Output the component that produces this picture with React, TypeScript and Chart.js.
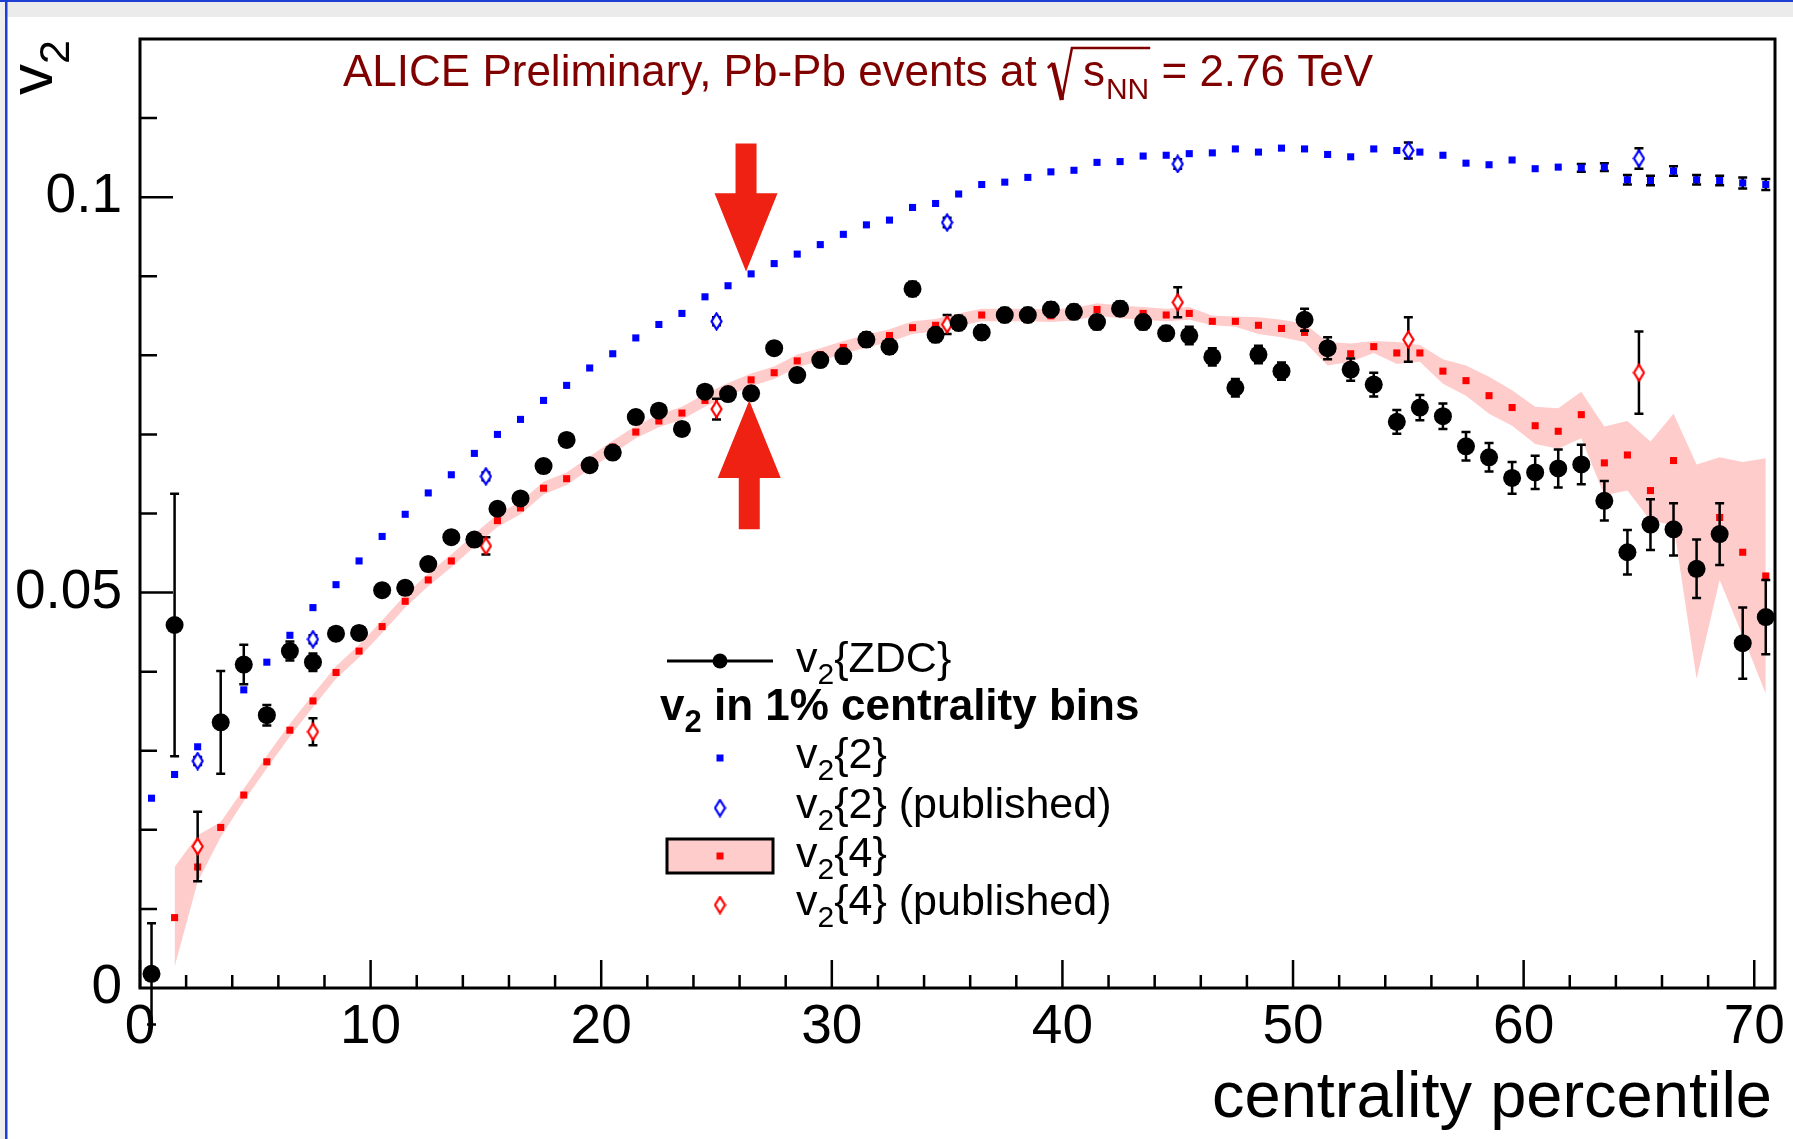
import React, { useEffect, useRef } from 'react';
import { Chart, registerables } from 'chart.js';

Chart.register(...registerables);

const W = 1793;
const H = 1139;
const FONT = "'Liberation Sans', Arial, Helvetica, sans-serif";

// ---------------- data ----------------
const CENTRALITY = [
  0.5, 1.5, 2.5, 3.5, 4.5, 5.5, 6.5, 7.5, 8.5, 9.5,
  10.5, 11.5, 12.5, 13.5, 14.5, 15.5, 16.5, 17.5, 18.5, 19.5,
  20.5, 21.5, 22.5, 23.5, 24.5, 25.5, 26.5, 27.5, 28.5, 29.5,
  30.5, 31.5, 32.5, 33.5, 34.5, 35.5, 36.5, 37.5, 38.5, 39.5,
  40.5, 41.5, 42.5, 43.5, 44.5, 45.5, 46.5, 47.5, 48.5, 49.5,
  50.5, 51.5, 52.5, 53.5, 54.5, 55.5, 56.5, 57.5, 58.5, 59.5,
  60.5, 61.5, 62.5, 63.5, 64.5, 65.5, 66.5, 67.5, 68.5, 69.5,
  70.5,
];

const V2_ZDC = [
  0.0018, 0.0459, null, 0.0336, 0.0409, 0.0345, 0.0426, 0.0412, 0.0448, 0.0449,
  0.0503, 0.0506, 0.0536, 0.0570, 0.0567, 0.0606, 0.0619, 0.0660, 0.0693, 0.0661,
  0.0677, 0.0722, 0.0730, 0.0707, 0.0754, 0.0751, 0.0752, 0.0809, 0.0775, 0.0794,
  0.0799, 0.0820, 0.0811, 0.0884, 0.0826, 0.0841, 0.0829, 0.0851, 0.0851, 0.0858,
  0.0855, 0.0842, 0.0859, 0.0842, 0.0828, 0.0825, 0.0798, 0.0759, 0.0801, 0.0780,
  0.0845, 0.0809, 0.0782, 0.0763, 0.0716, 0.0734, 0.0723, 0.0685, 0.0671, 0.0645,
  0.0652, 0.0657, 0.0662, 0.0616, 0.0551, 0.0586, 0.0580, 0.0530, 0.0574, 0.0436,
  0.0469,
];

const V2_ZDC_ERR = [
  0.0064, 0.0166, null, 0.0065, 0.0025, 0.0013, 0.0012, 0.0011, 0.0008, 0.0008,
  0.0008, 0.0008, 0.0008, 0.0008, 0.0008, 0.0008, 0.0008, 0.0008, 0.0008, 0.0008,
  0.0008, 0.0008, 0.0008, 0.0008, 0.0008, 0.0008, 0.0008, 0.0008, 0.0008, 0.0008,
  0.0009, 0.0009, 0.0009, 0.0009, 0.0009, 0.0009, 0.0009, 0.0009, 0.0009, 0.0009,
  0.0009, 0.0009, 0.0009, 0.0009, 0.0009, 0.0011, 0.0011, 0.0011, 0.0011, 0.0011,
  0.0014, 0.0014, 0.0014, 0.0015, 0.0015, 0.0016, 0.0016, 0.0018, 0.0018, 0.0020,
  0.0021, 0.0024, 0.0025, 0.0025, 0.0028, 0.0032, 0.0033, 0.0037, 0.0039, 0.0045,
  0.0047,
];

const V2_2 = [
  0.0240, 0.0270, 0.0305, 0.0340, 0.0377, 0.0412, 0.0446, 0.0481, 0.0510, 0.0540,
  0.0571, 0.0599, 0.0626, 0.0649, 0.0676, 0.0700, 0.0719, 0.0743, 0.0762, 0.0784,
  0.0802, 0.0822, 0.0839, 0.0853, 0.0874, 0.0888, 0.0903, 0.0916, 0.0928, 0.0940,
  0.0953, 0.0965, 0.0971, 0.0987, 0.0992, 0.1004, 0.1016, 0.1019, 0.1025, 0.1032,
  0.1034, 0.1044, 0.1045, 0.1052, 0.1053, 0.1055, 0.1056, 0.1061, 0.1057, 0.1062,
  0.1061, 0.1054, 0.1051, 0.1061, 0.1059, 0.1057, 0.1053, 0.1043, 0.1041, 0.1047,
  0.1036, 0.1038, 0.1037, 0.1038, 0.1022, 0.1021, 0.1033, 0.1022, 0.1021, 0.1018,
  0.1016,
];

const V2_2_ERR = [
  0, 0, 0, 0, 0, 0, 0, 0, 0, 0,
  0, 0, 0, 0, 0, 0, 0, 0, 0, 0,
  0, 0, 0, 0, 0, 0, 0, 0, 0, 0,
  0, 0, 0, 0, 0, 0, 0, 0, 0, 0,
  0, 0, 0, 0, 0, 0, 0, 0, 0, 0,
  0, 0, 0, 0, 0, 0, 0, 0, 0, 0,
  0, 0, 0.0005, 0.0005, 0.0006, 0.0006, 0.0006, 0.0006, 0.0006, 0.0007,
  0.0007,
];

const V2_4 = [
  null, 0.0089, 0.0153, 0.0203, 0.0244, 0.0286, 0.0326, 0.0363, 0.0399, 0.0426,
  0.0457, 0.0489, 0.0516, 0.0540, 0.0566, 0.0591, 0.0607, 0.0632, 0.0644, 0.0664,
  0.0684, 0.0703, 0.0717, 0.0727, 0.0743, 0.0757, 0.0769, 0.0778, 0.0793, 0.0801,
  0.0810, 0.0818, 0.0825, 0.0835, 0.0838, 0.0845, 0.0851, 0.0851, 0.0851, 0.0850,
  0.0852, 0.0858, 0.0855, 0.0853, 0.0851, 0.0853, 0.0843, 0.0843, 0.0838, 0.0834,
  0.0829, 0.0806, 0.0802, 0.0811, 0.0803, 0.0803, 0.0780, 0.0768, 0.0749, 0.0734,
  0.0711, 0.0704, 0.0725, 0.0664, 0.0674, 0.0629, 0.0667, 0.0530, 0.0595, 0.0551,
  0.0521,
];

const V2_4_BAND_LO = [
  null, 0.0027, 0.0134, 0.0191, 0.0236, 0.0278, 0.0318, 0.0355, 0.0391, 0.0418,
  0.0449, 0.0481, 0.0508, 0.0532, 0.0558, 0.0583, 0.0599, 0.0624, 0.0636, 0.0656,
  0.0676, 0.0695, 0.0709, 0.0719, 0.0735, 0.0749, 0.0761, 0.0770, 0.0785, 0.0793,
  0.0802, 0.0810, 0.0817, 0.0827, 0.0830, 0.0837, 0.0843, 0.0843, 0.0843, 0.0842,
  0.0844, 0.0850, 0.0847, 0.0845, 0.0843, 0.0845, 0.0838, 0.0836, 0.0827, 0.0823,
  0.0817, 0.0787, 0.0792, 0.0803, 0.0789, 0.0792, 0.0764, 0.0749, 0.0726, 0.0711,
  0.0688, 0.0682, 0.0695, 0.0623, 0.0629, 0.0591, 0.0585, 0.0391, 0.0516, 0.0445,
  0.0372,
];

const V2_4_BAND_HI = [
  null, 0.0153, 0.0193, 0.0210, 0.0252, 0.0294, 0.0334, 0.0371, 0.0407, 0.0434,
  0.0465, 0.0497, 0.0524, 0.0548, 0.0574, 0.0599, 0.0615, 0.0640, 0.0652, 0.0672,
  0.0692, 0.0711, 0.0725, 0.0735, 0.0751, 0.0765, 0.0777, 0.0786, 0.0801, 0.0809,
  0.0818, 0.0826, 0.0833, 0.0843, 0.0846, 0.0853, 0.0859, 0.0859, 0.0859, 0.0858,
  0.0860, 0.0866, 0.0863, 0.0861, 0.0859, 0.0861, 0.0850, 0.0849, 0.0848, 0.0845,
  0.0840, 0.0817, 0.0815, 0.0818, 0.0817, 0.0813, 0.0795, 0.0787, 0.0773, 0.0756,
  0.0735, 0.0733, 0.0754, 0.0710, 0.0717, 0.0691, 0.0726, 0.0662, 0.0671, 0.0665,
  0.0670,
];

const PUBLISHED_X = [2.5, 7.5, 15, 25, 35, 45, 55, 65];
const V2_2_PUB = [0.0287, 0.0441, 0.0647, 0.0843, 0.0968, 0.1042, 0.1059, 0.1049];
const V2_2_PUB_ERR = [0.0005, 0.0005, 0.0005, 0.0005, 0.0006, 0.0006, 0.0010, 0.0013];
const V2_4_PUB = [0.0179, 0.0324, 0.0559, 0.0732, 0.0839, 0.0867, 0.0820, 0.0778];
const V2_4_PUB_ERR = [0.0044, 0.0017, 0.0011, 0.0013, 0.0012, 0.0019, 0.0028, 0.0052];

const X_MIN = 0;
const X_MAX = 70.9;
const Y_MIN = 0;
const Y_MAX = 0.12;
const X_LABELS = [0, 10, 20, 30, 40, 50, 60, 70];
const Y_LABELS = ['0', '0.05', '0.1'];

// arrows (in data units)
const ARROW_DOWN = { x: 26.28, tail: 0.1068, base: 0.1005, tip: 0.0906 };
const ARROW_UP = { x: 26.42, tail: 0.058, base: 0.0645, tip: 0.0743 };

const TITLE_PARTS = ['ALICE Preliminary, Pb-Pb events at ', 's', 'NN', ' = 2.76 TeV'];
const X_TITLE = 'centrality percentile';

// ---------------- helpers ----------------
type Part = { t: string; sub?: boolean };

function richWidth(ctx: CanvasRenderingContext2D, parts: Part[], size: number, bold: boolean) {
  let w = 0;
  for (const p of parts) {
    const s = p.sub ? Math.round(size * 0.7) : size;
    ctx.font = `${bold ? 'bold ' : ''}${s}px ${FONT}`;
    w += ctx.measureText(p.t).width;
  }
  return w;
}

function drawRich(
  ctx: CanvasRenderingContext2D,
  parts: Part[],
  x: number,
  y: number,
  size: number,
  bold: boolean,
) {
  let cx = x;
  for (const p of parts) {
    const s = p.sub ? Math.round(size * 0.7) : size;
    ctx.font = `${bold ? 'bold ' : ''}${s}px ${FONT}`;
    const dy = p.sub ? size * 0.28 : 0;
    ctx.fillText(p.t, cx, y + dy);
    cx += ctx.measureText(p.t).width;
  }
  return cx;
}

function makeDiamond(color: string) {
  const c = document.createElement('canvas');
  c.width = 13;
  c.height = 19;
  const g = c.getContext('2d')!;
  g.beginPath();
  g.moveTo(6.5, 1.5);
  g.lineTo(11.5, 9.5);
  g.lineTo(6.5, 17.5);
  g.lineTo(1.5, 9.5);
  g.closePath();
  g.fillStyle = '#ffffff';
  g.fill();
  g.strokeStyle = color;
  g.lineWidth = 2.2;
  g.stroke();
  return c;
}

function pts(xs: number[], ys: (number | null)[]) {
  return xs.map((x, i) => ({ x, y: ys[i] }));
}

// ---------------- plugins ----------------
const backgroundPlugin = {
  id: 'slideBackground',
  beforeDraw(chart: any) {
    const ctx = chart.ctx as CanvasRenderingContext2D;
    ctx.save();
    ctx.fillStyle = '#ffffff';
    ctx.fillRect(0, 0, W, H);
    ctx.fillStyle = '#ebebeb';
    ctx.fillRect(0, 0, W, 17);
    ctx.fillStyle = '#eeeeee';
    ctx.fillRect(0, 0, 5, H);
    ctx.fillStyle = '#1d3fd4';
    ctx.fillRect(0, 0, W, 2);
    ctx.fillRect(5, 0, 2.5, H);
    ctx.restore();
  },
};

const errorBarPlugin = {
  id: 'errorBars',
  beforeDatasetDraw(chart: any, args: any) {
    const ds = chart.data.datasets[args.index];
    const errs = ds.errY as (number | null)[] | undefined;
    if (!errs) return;
    const ys = chart.scales.y;
    const ctx = chart.ctx as CanvasRenderingContext2D;
    const els = args.meta.data;
    ctx.save();
    ctx.strokeStyle = '#000000';
    ctx.lineWidth = 2.5;
    ds.data.forEach((d: any, i: number) => {
      const e = errs[i];
      if (d.y == null || !e || !els[i]) return;
      const x = els[i].x;
      const yHi = ys.getPixelForValue(d.y + e);
      const yLo = ys.getPixelForValue(d.y - e);
      ctx.beginPath();
      ctx.moveTo(x, yHi);
      ctx.lineTo(x, yLo);
      ctx.moveTo(x - 4.5, yHi);
      ctx.lineTo(x + 4.5, yHi);
      ctx.moveTo(x - 4.5, yLo);
      ctx.lineTo(x + 4.5, yLo);
      ctx.stroke();
    });
    ctx.restore();
  },
};

function makeOverlayPlugin(diamondBlue: HTMLCanvasElement, diamondRed: HTMLCanvasElement) {
  return {
    id: 'overlay',
    afterDatasetsDraw(chart: any) {
      const ctx = chart.ctx as CanvasRenderingContext2D;
      const xs = chart.scales.x;
      const ys = chart.scales.y;
      const a = chart.chartArea;

      // arrows
      ctx.save();
      ctx.fillStyle = '#ee2112';
      const arrow = (ar: { x: number; tail: number; base: number; tip: number }) => {
        const x = xs.getPixelForValue(ar.x);
        const yT = ys.getPixelForValue(ar.tail);
        const yB = ys.getPixelForValue(ar.base);
        const yP = ys.getPixelForValue(ar.tip);
        const sw = 10.5;
        const hw = 31.5;
        ctx.beginPath();
        ctx.moveTo(x - sw, yT);
        ctx.lineTo(x + sw, yT);
        ctx.lineTo(x + sw, yB);
        ctx.lineTo(x + hw, yB);
        ctx.lineTo(x, yP);
        ctx.lineTo(x - hw, yB);
        ctx.lineTo(x - sw, yB);
        ctx.closePath();
        ctx.fill();
      };
      arrow(ARROW_DOWN);
      arrow(ARROW_UP);
      ctx.restore();

      // frame
      ctx.save();
      ctx.strokeStyle = '#000000';
      ctx.lineWidth = 3;
      ctx.strokeRect(a.left, a.top, a.right - a.left, a.bottom - a.top);
      // inward ticks
      ctx.lineWidth = 2.5;
      ctx.beginPath();
      xs.ticks.forEach((t: any) => {
        const v = t.value;
        const px = xs.getPixelForValue(v);
        const major = Math.abs(v / 10 - Math.round(v / 10)) < 1e-6;
        const len = major ? 28 : 13;
        ctx.moveTo(px, a.bottom);
        ctx.lineTo(px, a.bottom - len);
      });
      ys.ticks.forEach((t: any) => {
        const v = t.value;
        if (v <= 0.0001 || v >= Y_MAX - 0.0001) return;
        const py = ys.getPixelForValue(v);
        const major = Math.abs(v / 0.05 - Math.round(v / 0.05)) < 1e-6;
        const len = major ? 33 : 17;
        ctx.moveTo(a.left, py);
        ctx.lineTo(a.left + len, py);
      });
      ctx.stroke();
      ctx.restore();

      // top annotation
      ctx.save();
      ctx.fillStyle = '#800000';
      ctx.strokeStyle = '#800000';
      ctx.textBaseline = 'alphabetic';
      ctx.font = `44px ${FONT}`;
      let x = 343;
      const by = 86;
      ctx.fillText(TITLE_PARTS[0], x, by);
      x += ctx.measureText(TITLE_PARTS[0]).width;
      const rx = x - 1;
      const sx = rx + 35;
      ctx.fillText(TITLE_PARTS[1], sx, by);
      let nx = sx + ctx.measureText(TITLE_PARTS[1]).width + 1;
      ctx.font = `30px ${FONT}`;
      ctx.fillText(TITLE_PARTS[2], nx, by + 13);
      nx += ctx.measureText(TITLE_PARTS[2]).width;
      const overEnd = nx + 1;
      ctx.lineJoin = 'miter';
      ctx.lineWidth = 2.5;
      ctx.beginPath();
      ctx.moveTo(rx, 68);
      ctx.lineTo(rx + 5, 63);
      ctx.stroke();
      ctx.lineWidth = 4.5;
      ctx.beginPath();
      ctx.moveTo(rx + 5, 63);
      ctx.lineTo(rx + 14, 100);
      ctx.stroke();
      ctx.lineWidth = 2.5;
      ctx.beginPath();
      ctx.moveTo(rx + 14, 100);
      ctx.lineTo(rx + 24, 48);
      ctx.lineTo(overEnd, 48);
      ctx.stroke();
      ctx.font = `44px ${FONT}`;
      ctx.fillText(TITLE_PARTS[3], nx, by);
      ctx.restore();

      // axis titles
      ctx.save();
      ctx.fillStyle = '#000000';
      ctx.textBaseline = 'alphabetic';
      ctx.textAlign = 'right';
      ctx.font = `65px ${FONT}`;
      ctx.fillText(X_TITLE, a.right - 3, 1117);
      ctx.textAlign = 'left';
      const yParts: Part[] = [{ t: 'v' }, { t: '2', sub: true }];
      const wY = richWidth(ctx, yParts, 62, false);
      ctx.translate(52, a.top + 1);
      ctx.rotate(-Math.PI / 2);
      drawRich(ctx, yParts, -wY, 0, 62, false);
      ctx.restore();

      // legend
      ctx.save();
      ctx.fillStyle = '#000000';
      ctx.textBaseline = 'alphabetic';
      const symX = 720;
      const textX = 796;
      const size = 43;
      // row 1: ZDC
      ctx.strokeStyle = '#000000';
      ctx.lineWidth = 3;
      ctx.beginPath();
      ctx.moveTo(667, 661);
      ctx.lineTo(773, 661);
      ctx.stroke();
      ctx.beginPath();
      ctx.arc(symX, 661, 7.5, 0, Math.PI * 2);
      ctx.fill();
      drawRich(ctx, [{ t: 'v' }, { t: '2', sub: true }, { t: '{ZDC}' }], textX, 672, size, false);
      // row 2: header
      drawRich(
        ctx,
        [{ t: 'v' }, { t: '2', sub: true }, { t: ' in 1% centrality bins' }],
        660,
        720,
        44,
        true,
      );
      // row 3: v2{2}
      ctx.fillStyle = '#0000ff';
      ctx.fillRect(symX - 3.5, 758 - 3.5, 7, 7);
      ctx.fillStyle = '#000000';
      drawRich(ctx, [{ t: 'v' }, { t: '2', sub: true }, { t: '{2}' }], textX, 768, size, false);
      // row 4: v2{2} published
      ctx.drawImage(diamondBlue, symX - diamondBlue.width / 2, 808 - diamondBlue.height / 2);
      drawRich(
        ctx,
        [{ t: 'v' }, { t: '2', sub: true }, { t: '{2} (published)' }],
        textX,
        818,
        size,
        false,
      );
      // row 5: v2{4}
      ctx.fillStyle = '#ffcccc';
      ctx.fillRect(667, 839, 106, 34);
      ctx.strokeStyle = '#000000';
      ctx.lineWidth = 3;
      ctx.strokeRect(667, 839, 106, 34);
      ctx.fillStyle = '#ff0000';
      ctx.fillRect(symX - 3.5, 856 - 3.5, 7, 7);
      ctx.fillStyle = '#000000';
      drawRich(ctx, [{ t: 'v' }, { t: '2', sub: true }, { t: '{4}' }], textX, 867, size, false);
      // row 6: v2{4} published
      ctx.drawImage(diamondRed, symX - diamondRed.width / 2, 905 - diamondRed.height / 2);
      drawRich(
        ctx,
        [{ t: 'v' }, { t: '2', sub: true }, { t: '{4} (published)' }],
        textX,
        915,
        size,
        false,
      );
      ctx.restore();
    },
  };
}

// ---------------- component ----------------
export default function App() {
  const canvasRef = useRef<HTMLCanvasElement | null>(null);

  useEffect(() => {
    document.body.style.margin = '0';
    document.body.style.background = '#ffffff';
    const canvas = canvasRef.current;
    if (!canvas) return;
    const diamondBlue = makeDiamond('#0000ff');
    const diamondRed = makeDiamond('#ff0000');

    const tickFont = { family: FONT, size: 55, lineHeight: 1.2 };

    const chart = new Chart(canvas, {
      type: 'scatter',
      data: {
        datasets: [
          {
            type: 'line',
            label: 'v2{4} band upper',
            data: pts(CENTRALITY, V2_4_BAND_HI),
            borderWidth: 0,
            borderColor: 'rgba(0,0,0,0)',
            pointRadius: 0,
            tension: 0,
            fill: '+1',
            backgroundColor: '#ffcccc',
            order: 10,
          } as any,
          {
            type: 'line',
            label: 'v2{4} band lower',
            data: pts(CENTRALITY, V2_4_BAND_LO),
            borderWidth: 0,
            borderColor: 'rgba(0,0,0,0)',
            pointRadius: 0,
            tension: 0,
            fill: false,
            order: 11,
          } as any,
          {
            label: 'v2{4}',
            data: pts(CENTRALITY, V2_4),
            pointStyle: 'rect',
            pointRadius: 5,
            backgroundColor: '#ff0000',
            borderWidth: 0,
            order: 8,
          } as any,
          {
            label: 'v2{2}',
            data: pts(CENTRALITY, V2_2),
            errY: V2_2_ERR,
            pointStyle: 'rect',
            pointRadius: 5,
            backgroundColor: '#0000ff',
            borderWidth: 0,
            order: 7,
          } as any,
          {
            label: 'v2{2} (published)',
            data: pts(PUBLISHED_X, V2_2_PUB),
            errY: V2_2_PUB_ERR,
            pointStyle: diamondBlue,
            pointRadius: 6,
            order: 5,
          } as any,
          {
            label: 'v2{4} (published)',
            data: pts(PUBLISHED_X, V2_4_PUB),
            errY: V2_4_PUB_ERR,
            pointStyle: diamondRed,
            pointRadius: 6,
            order: 4,
          } as any,
          {
            label: 'v2{ZDC}',
            data: pts(CENTRALITY, V2_ZDC),
            errY: V2_ZDC_ERR,
            pointStyle: 'circle',
            pointRadius: 9,
            backgroundColor: '#000000',
            borderWidth: 0,
            order: 1,
          } as any,
        ],
      },
      options: {
        responsive: false,
        maintainAspectRatio: false,
        animation: false,
        devicePixelRatio: 1,
        events: [],
        layout: { padding: { top: 39, right: 18, left: 0, bottom: 0 } },
        plugins: {
          legend: { display: false },
          tooltip: { enabled: false },
          title: { display: false },
        },
        scales: {
          x: {
            type: 'linear',
            min: X_MIN,
            max: X_MAX,
            grid: { display: false, drawTicks: false, tickLength: 0 },
            border: { display: false },
            ticks: {
              stepSize: 2,
              includeBounds: false,
              autoSkip: false,
              maxRotation: 0,
              minRotation: 0,
              padding: 7,
              color: '#000000',
              font: tickFont,
              callback: (v: any) => {
                const n = Number(v);
                const hit = X_LABELS.find((l) => Math.abs(l - n) < 1e-6);
                return hit === undefined ? '' : String(hit);
              },
            },
            afterFit: (s: any) => {
              s.height = 151;
              s.paddingLeft = 0;
              s.paddingRight = 0;
            },
          },
          y: {
            type: 'linear',
            min: Y_MIN,
            max: Y_MAX,
            grid: { display: false, drawTicks: false, tickLength: 0 },
            border: { display: false },
            ticks: {
              stepSize: 0.01,
              autoSkip: false,
              padding: 18,
              color: '#000000',
              font: tickFont,
              callback: (v: any) => {
                const k = Math.round(Number(v) * 100);
                if (k === 0) return Y_LABELS[0];
                if (k === 5) return Y_LABELS[1];
                if (k === 10) return Y_LABELS[2];
                return '';
              },
            },
            afterFit: (s: any) => {
              s.width = 140;
              s.paddingTop = 0;
              s.paddingBottom = 0;
            },
          },
        },
      } as any,
      plugins: [backgroundPlugin, errorBarPlugin, makeOverlayPlugin(diamondBlue, diamondRed)],
    });

    return () => {
      chart.destroy();
    };
  }, []);

  return (
    <div style={{ position: 'fixed', left: 0, top: 0, width: W, height: H, background: '#fff' }}>
      <canvas ref={canvasRef} width={W} height={H} style={{ display: 'block', width: W, height: H }} />
    </div>
  );
}
